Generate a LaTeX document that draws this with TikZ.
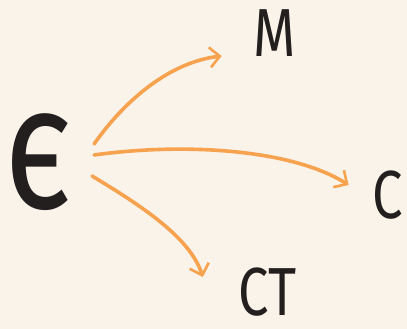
\documentclass[tikz,border=0pt]{standalone}
\usepackage{fontspec}
\setmainfont{Fira Sans}
\usetikzlibrary{arrows.meta,positioning}
\definecolor{paper}{HTML}{FAF3EA}
\definecolor{peach}{HTML}{F7A24E}
\definecolor{ink}{HTML}{231F1E}

\begin{document}
\begin{tikzpicture}[x=1pt, y=-1pt,
  sym/.style={text=ink, inner sep=0pt, font=\fontsize{68}{68}\selectfont, xscale=0.8},
  arr/.style={draw=peach, line width=3.6pt, line cap=round,
              -{Straight Barb[length=10pt, width=20pt, line width=2.6pt]}}
]
\fill[paper] (0,0) rectangle (407,329);
\useasboundingbox (0,0) rectangle (407,329);

\node[sym, font=\fontsize{176}{176}\selectfont, xscale=1] (eps) at (38,162) {є};
\node[sym] (mm) at (275,33) {M};
\node[sym] (cc) at (388,195) {C};
\node[sym] (ct) at (268,292) {CT};

% curved arrows out of the symbol
\draw[arr] ([shift={(22pt,18pt)}]eps.east) .. controls (125,100) and (170,62) .. ([shift={(-32pt,-23pt)}]mm.west);
\draw[arr] ([shift={(22pt,7pt)}]eps.east) .. controls (180,143) and (290,148) .. ([shift={(-24pt,10pt)}]cc.west);
\draw[arr] ([shift={(20pt,-14pt)}]eps.east) .. controls (140,205) and (190,237) .. ([shift={(-36pt,15pt)}]ct.west);
\end{tikzpicture}
\end{document}
